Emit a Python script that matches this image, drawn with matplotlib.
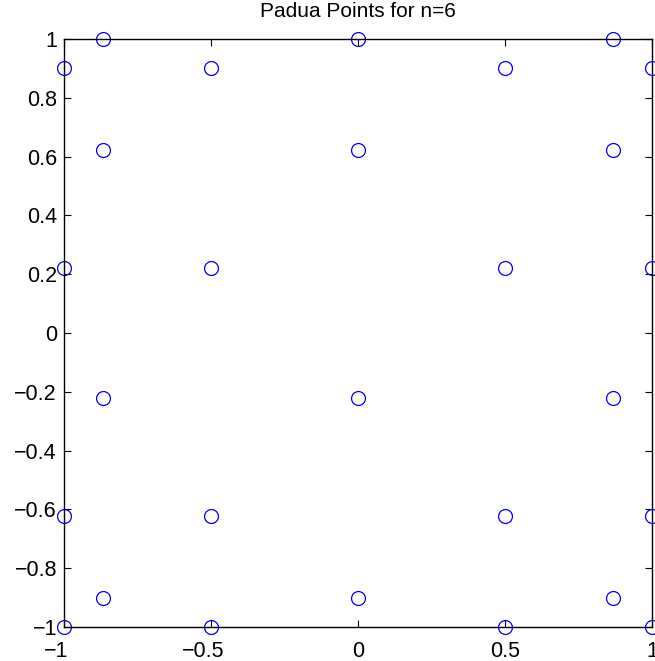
import matplotlib
matplotlib.use("Agg")
import matplotlib.pyplot as plt
import matplotlib.transforms as mtransforms

# Padua points, n=6
x_pts = [-1, -1, -1, -1,
         -0.866, -0.866, -0.866, -0.866,
         -0.5, -0.5, -0.5, -0.5,
         0, 0, 0, 0,
         0.5, 0.5, 0.5, 0.5,
         0.866, 0.866, 0.866, 0.866,
         1, 1, 1, 1]
y_pts = [0.901, 0.2225, -0.6235, -1,
         1, 0.6235, -0.2225, -0.901,
         0.901, 0.2225, -0.6235, -1,
         1, 0.6235, -0.2225, -0.901,
         0.901, 0.2225, -0.6235, -1,
         1, 0.6235, -0.2225, -0.901,
         0.901, 0.2225, -0.6235, -1]

xticks = [-1, -0.5, 0, 0.5, 1]
xticklabels = ["\u22121", "\u22120.5", "0", "0.5", "1"]
yticks = [-1, -0.8, -0.6, -0.4, -0.2, 0, 0.2, 0.4, 0.6, 0.8, 1]
yticklabels = ["\u22121", "\u22120.8", "\u22120.6", "\u22120.4", "\u22120.2", "0",
               "0.2", "0.4", "0.6", "0.8", "1"]

plt.rcParams["font.family"] = ["Liberation Sans", "DejaVu Sans"]

fig = plt.figure(figsize=(6.55, 6.61), dpi=100)
ax = fig.add_axes([64 / 655, 34 / 661, 588 / 655, 588 / 661])

ax.plot(x_pts, y_pts, "o", mfc="none", mec="blue", ms=10, mew=0.9,
        clip_on=False)

ax.set_xlim(-1, 1)
ax.set_ylim(-1, 1)
ax.set_xticks(xticks)
ax.set_xticklabels(xticklabels)
ax.set_yticks(yticks)
ax.set_yticklabels(yticklabels)
ax.tick_params(direction="in", top=True, right=True, length=5, width=0.8,
               labelsize=15.5)
ax.tick_params(axis="y", pad=5)
ax.tick_params(axis="x", pad=10)
for s in ax.spines.values():
    s.set_linewidth(1.0)

# matlab puts the minus sign to the left of a centred number
shift = mtransforms.ScaledTranslation(-8 / 100, 0, fig.dpi_scale_trans)
for lab in ax.get_xticklabels():
    if lab.get_text().startswith("\u2212"):
        lab.set_transform(lab.get_transform() + shift)

ax.set_title("Padua Points for n=6", fontsize=15, pad=16)

fig.savefig("out.png", dpi=100)
